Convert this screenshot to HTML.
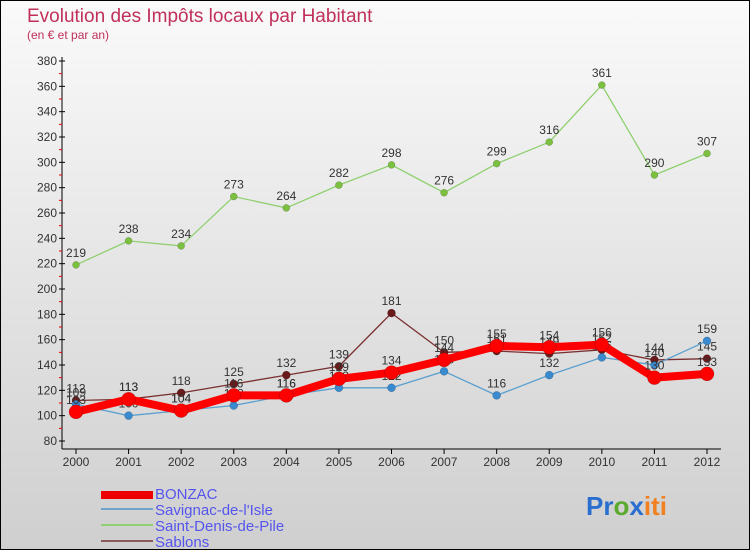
<!DOCTYPE html>
<html><head><meta charset="utf-8"><style>
body{margin:0;}
#c{width:748px;height:548px;border:1px solid #000;background:linear-gradient(#fafafa,#cfcfcf);position:relative;overflow:hidden;font-family:"Liberation Sans",sans-serif;}
</style></head><body>
<div id="c">
<svg id="s" width="748" height="548" xmlns="http://www.w3.org/2000/svg">
<text x="26" y="21" font-size="19" fill="#c0305a">Evolution des Impôts locaux par Habitant</text>
<text x="26" y="38" font-size="12" fill="#c0305a">(en € et par an)</text>
<g id="axes"></g><g id="series"></g>
<g font-size="15" fill="#5555ee">
<rect x="100" y="490" width="52" height="8" fill="#e00"/>
<text x="154" y="498">BONZAC</text>
<line x1="100" x2="152" y1="508" y2="508" stroke="#6fa3cc" stroke-width="2"/>
<text x="154" y="514">Savignac-de-l'Isle</text>
<line x1="100" x2="152" y1="524" y2="524" stroke="#90d070" stroke-width="2"/>
<text x="154" y="530">Saint-Denis-de-Pile</text>
<line x1="100" x2="152" y1="540" y2="540" stroke="#8a5a5a" stroke-width="2"/>
<text x="154" y="546">Sablons</text>
</g>
<text x="585" y="514" font-size="26" font-weight="bold"><tspan fill="#2a6fd0">Pr</tspan><tspan fill="#5aaa30">o</tspan><tspan fill="#2a6fd0">x</tspan><tspan fill="#f08020">iti</tspan></text>
</svg></div>
<script>
const years=[2000,2001,2002,2003,2004,2005,2006,2007,2008,2009,2010,2011,2012];
const yTicks=[80,100,120,140,160,180,200,220,240,260,280,300,320,340,360,380];
const bonzac=[103,113,104,116,116,129,134,144,155,154,156,130,133];
const savignac=[109,100,104,108,116,122,122,135,116,132,146,140,159];
const saintDenis=[219,238,234,273,264,282,298,276,299,316,361,290,307];
const sablons=[112,113,118,125,132,139,181,150,151,149,152,144,145];
const NS="http://www.w3.org/2000/svg";
function X(i){return 75+i*(706-75)/(years.length-1);}
function Y(v){return 440-(v-80)*380/300;}
const ax=document.getElementById('axes'),sg=document.getElementById('series');
function mk(tag,at,p){const e=document.createElementNS(NS,tag);for(const k in at)e.setAttribute(k,at[k]);p.appendChild(e);return e;}
let l=mk('line',{x1:61,x2:61,y1:56,y2:448,stroke:'#000'},ax);


l=mk('line',{x1:61,x2:720,y1:448,y2:448,stroke:'#000'},ax);


yTicks.forEach(v=>{
 mk('line',{x1:58,x2:64,y1:Y(v),y2:Y(v),stroke:'#000'},ax);
 if(v<380)mk('line',{x1:58,x2:61,y1:Y(v+10),y2:Y(v+10),stroke:'#e00'},ax);
 const t=mk('text',{x:56,y:Y(v)+4,'text-anchor':'end','font-size':12,fill:'#333'},ax);t.textContent=v;
 
 
});
years.forEach((y,i)=>{
 mk('line',{x1:X(i),x2:X(i),y1:448,y2:453,stroke:'#000'},ax);
 const t=mk('text',{x:X(i),y:465,'text-anchor':'middle','font-size':12,fill:'#333'},ax);t.textContent=y;
 
 
});
function draw(name,vals,color,w,r,dot){
 const g=mk('g',{},sg);
 
 
 const pl=mk('polyline',{points:vals.map((v,i)=>X(i)+','+Y(v)).join(' '),fill:'none',stroke:color,'stroke-width':w},g);
 
 
 vals.forEach((v,i)=>{
  const c=mk('circle',{cx:X(i),cy:Y(v),r:r,fill:dot,stroke:'rgba(0,0,0,0.3)','stroke-width':0.5},g);
  
  
  const t=mk('text',{x:X(i),y:Y(v)-8,'text-anchor':'middle','font-size':12,fill:'#333'},g);t.textContent=v;
  
  
 });
}
draw('saint-denis',saintDenis,'#90d070',1.3,3.5,'#7cc040');
draw('sablons',sablons,'#7a3030',1.3,4,'#6a1a1a');
draw('savignac',savignac,'#5a9fd0',1.3,4,'#3a8ad0');
draw('bonzac',bonzac,'#f00',8,7,'#f00');
</script>
</body></html>
